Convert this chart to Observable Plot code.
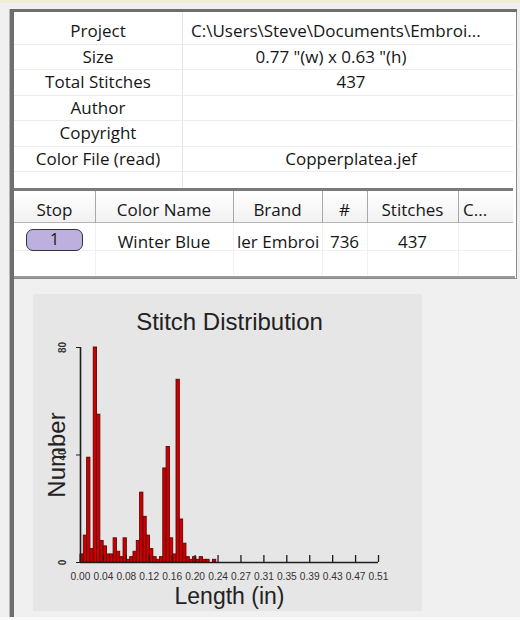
<!DOCTYPE html>
<html><head><meta charset="utf-8">
<script src="https://cdn.jsdelivr.net/npm/d3@7"></script>
<script src="https://cdn.jsdelivr.net/npm/@observablehq/plot@0.6"></script>
<style>
html,body{margin:0;padding:0;background:#f0f0f0;}
#page{position:relative;width:520px;height:620px;overflow:hidden;background:#f0f0f0;font-family:"Open Sans",sans-serif;color:#161616;}
.abs{position:absolute;}
.cell{position:absolute;white-space:nowrap;overflow:hidden;font-size:17px;line-height:24px;}
</style></head><body><div id="page"></div>
<script>
// ---- data ----
const propLabels = ["Project","Size","Total Stitches","Author","Copyright","Color File (read)"];
const propValues = ["C:\\Users\\Steve\\Documents\\Embroi...","0.77 \"(w) x 0.63 \"(h)","437","","","Copperplatea.jef"];
const colHeaders = ["Stop","Color Name","Brand","#","Stitches","C..."];
const colorRow = ["1","Winter Blue","ler Embroi","736","437",""];

const chartTitle = "Stitch Distribution";
const xLabel = "Length (in)";
const yLabel = "Number";
const lengthMax = 0.51;
const binCount = 90;
// stitch counts per length bin
const counts = [3,10,39,5,80,55,8,6,3,3,9,4,2,9,1,2,4,8,26,17,10,5,2,1,2,35,43,9,3,68,16,7,2,1,2,1,2,1,1,0,1];
const xTickLabels = ["0.00","0.04","0.08","0.12","0.16","0.20","0.24","0.27","0.31","0.35","0.39","0.43","0.47","0.51"];
const yTicks = [0,40,80];

// ---- layout of the dialog ----
const page = document.getElementById("page");
function div(style, text){const d=document.createElement("div");d.className="abs";d.style.cssText=style;if(text!==undefined)d.textContent=text;page.appendChild(d);return d;}

// window frame
div("left:0;top:0;width:520px;height:3px;background:#efedd8;");
div("left:10px;top:9px;width:507px;height:270px;background:#ffffff;border:1px solid #8a8a8a;box-sizing:border-box;");
div("left:10px;top:9px;width:507px;height:3px;background:#6e6e6e;");
div("left:10px;top:9px;width:4px;height:609px;background:#6e6e6e;");
div("left:9px;top:9px;width:1px;height:609px;background:#b8b8b8;");
div("left:0;top:617px;width:520px;height:3px;background:#fafafa;");

// property grid
const rowTop = 19, rowH = 25.5;
div(`left:182px;top:12px;width:1px;height:176px;background:#e4e4e4;`);
for(let i=0;i<7;i++){
  div(`left:14px;top:${Math.round(rowTop+rowH*(i+1))-1}px;width:499px;height:1px;background:#ececec;`);
}
propLabels.forEach((t,i)=>{
  const c=div(`left:14px;top:${rowTop+rowH*i}px;width:168px;text-align:center;`,t);c.className="cell";
});
propValues.forEach((t,i)=>{
  const style = i===0 ? `left:191px;top:${rowTop+rowH*i}px;width:322px;text-align:left;`
              : i===1 ? `left:183px;top:${rowTop+rowH*i}px;width:296px;text-align:center;`
              : `left:183px;top:${rowTop+rowH*i}px;width:336px;text-align:center;`;
  const c=div(style,t);c.className="cell";
});
div("left:14px;top:188px;width:499px;height:3px;background:#7a7a7a;");

// colour table
const edges=[14,95,233,322,367,458,513];
div("left:14px;top:191px;width:499px;height:32px;background:linear-gradient(#ffffff,#f1f1f1);");
div("left:14px;top:222px;width:499px;height:1px;background:#b5b5b5;");
edges.slice(1,-1).forEach(x=>{
  div(`left:${x}px;top:191px;width:1px;height:32px;background:#a8a8a8;`);
  div(`left:${x}px;top:223px;width:1px;height:52px;background:#f0f0f0;`);
});
div("left:14px;top:250px;width:499px;height:1px;background:#f0f0f0;");
colHeaders.forEach((t,i)=>{
  const left=i===5?edges[i]+5:edges[i];
  const c=div(`left:${left}px;top:198px;width:${edges[i+1]-edges[i]}px;text-align:${i===5?"left":"center"};`,t);c.className="cell";
});
colorRow.forEach((t,i)=>{
  if(i===0){
    div("left:26px;top:229px;width:57px;height:22px;background:#bdb0de;border:1.6px solid #333;border-radius:7px;box-sizing:border-box;text-align:center;font-size:16px;line-height:19px;",t);
    return;
  }
  const align=i===2?"left":"center";
  const left=i===2?edges[i]+4:edges[i];
  const w=i===2?edges[i+1]-edges[i]-4:edges[i+1]-edges[i];
  const c=div(`left:${left}px;top:230px;width:${w}px;text-align:${align};`,t);c.className="cell";
});
div("left:14px;top:276px;width:501px;height:2px;background:#9a9a9a;");

// ---- chart ----
const binW = lengthMax/binCount;
const bins = counts.map((n,i)=>({x1:i*binW,x2:(i+1)*binW,n}));
const xTicks = xTickLabels.map((_,i)=>i*lengthMax/(xTickLabels.length-1));
const font = "'Liberation Sans', Arial, sans-serif";

const chart = Plot.plot({
  width:389, height:317,
  marginLeft:47, marginRight:44, marginTop:53, marginBottom:49,
  style:{background:"#e6e6e6", fontFamily:font, overflow:"visible"},
  x:{domain:[0,lengthMax], axis:null},
  y:{domain:[0,yTicks[yTicks.length-1]], axis:null},
  marks:[
    Plot.rectY(bins,{x1:"x1",x2:"x2",y:"n",fill:"#cc0000",stroke:"#620404",strokeWidth:0.9}),
    Plot.ruleY([0],{stroke:"#1e1e1e",strokeWidth:1.6}),
    Plot.ruleX([0],{stroke:"#1e1e1e",strokeWidth:1.6}),
    Plot.ruleX(xTicks,{x:d=>d,y1:0,y2:2.6,stroke:"#1e1e1e",strokeWidth:1.3}),
    Plot.axisY({ticks:yTicks,tickSize:4,tickFormat:()=>"",label:null,stroke:"#1e1e1e"}),
    Plot.text(xTicks,{x:d=>d,text:(d,i)=>xTickLabels[i],frameAnchor:"bottom",lineAnchor:"middle",dy:14,fontSize:10.2,fill:"#333"}),
    Plot.text(yTicks,{y:d=>d,text:d=>String(d),frameAnchor:"left",textAnchor:"middle",lineAnchor:"middle",dx:-18,rotate:-90,fontSize:10,fontWeight:"bold",fill:"#333"}),
    Plot.text([chartTitle],{text:d=>d,frameAnchor:"top",lineAnchor:"middle",dy:-25,fontSize:24,fill:"#222"}),
    Plot.text([xLabel],{text:d=>d,frameAnchor:"bottom",lineAnchor:"middle",dy:34,fontSize:23,fill:"#222"}),
    Plot.text([yLabel],{text:d=>d,frameAnchor:"left",textAnchor:"middle",lineAnchor:"middle",dx:-23,rotate:-90,fontSize:24,fill:"#222"})
  ]
});
const holder = div("left:33px;top:294px;width:389px;height:317px;");
holder.appendChild(chart);
</script></body></html>
